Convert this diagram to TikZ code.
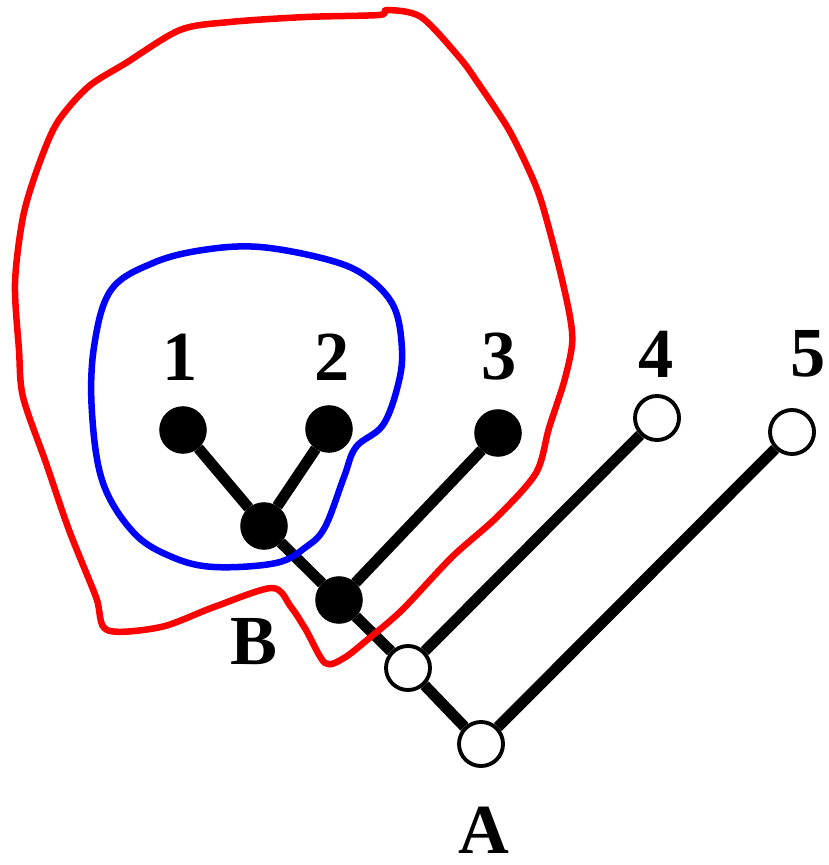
\documentclass[tikz,border=0pt]{standalone}
\usepackage{fontspec}
\setmainfont{Liberation Serif}
\begin{document}
\begin{tikzpicture}[x=0.01cm, y=-0.01cm,
  blackdot/.style={circle, draw, fill=black, line width=1pt, minimum size=0.44cm, inner sep=0pt},
  whitedot/.style={circle, draw, fill=white, line width=1.1pt, minimum size=0.44cm, inner sep=0pt},
  lbl/.style={font=\fontsize{20}{22}\selectfont\bfseries, inner sep=0pt},
  edge/.style={line width=0.11cm},
  blob/.style={line width=0.065cm, line join=round}]
\useasboundingbox (0,0) rectangle (828,865);
\node[blackdot] (n1) at (183,430) {};
\node[blackdot] (n2) at (329,429) {};
\node[blackdot] (n3) at (498,433) {};
\node[whitedot] (n4) at (657,418) {};
\node[whitedot] (n5) at (792,432) {};
\node[blackdot] (b12) at (264,526) {};
\node[blackdot] (b) at (339,600) {};
\node[whitedot] (a4) at (408,668) {};
\node[whitedot] (a) at (481,744) {};
\node[lbl] (t1) at (180,357) {1};
\node[lbl] (t2) at (332,357) {2};
\node[lbl] (t3) at (499,357) {3};
\node[lbl] (t4) at (656,354) {4};
\node[lbl] (t5) at (808,354) {5};
\node[lbl] (tb) at (254,642) {B};
\node[lbl] (ta) at (484,830) {A};
\draw[edge] (n1) -- (b12) -- (b) -- (a4) -- (a);
\draw[edge] (n2) -- (b12);
\draw[edge] (n3) -- (b);
\draw[edge] (n4) -- (a4);
\draw[edge] (n5) -- (a);
\draw[blob, blue] plot[smooth cycle, tension=0.6] coordinates {
  (94,347) (111,290) (153,263) (203,250) (260,247) (329,260) (367,277)
  (394,307) (402,350) (398,385) (383,425) (356,447) (344,477) (325,527)
  (306,547) (276,563) (214,567) (172,557) (134,533) (103,483) (92,413)};
\draw[blob, red] plot[smooth cycle, tension=0.5] coordinates {
  (19,350) (15,283) (23,217) (38,167) (57,123) (88,87) (126,63) (180,30)
  (230,22) (306,17) (379,15) (387,10) (421,17) (459,57) (478,83) (509,130)
  (532,177) (543,207) (559,267) (570,317) (572,345) (564,382) (549,428)
  (536,473) (497,517) (452,557) (402,610) (367,640) (344,658) (325,663)
  (306,630) (291,607) (272,588) (214,607) (161,627) (107,630) (96,597)
  (69,530) (46,463) (23,397)};
\end{tikzpicture}
\end{document}
